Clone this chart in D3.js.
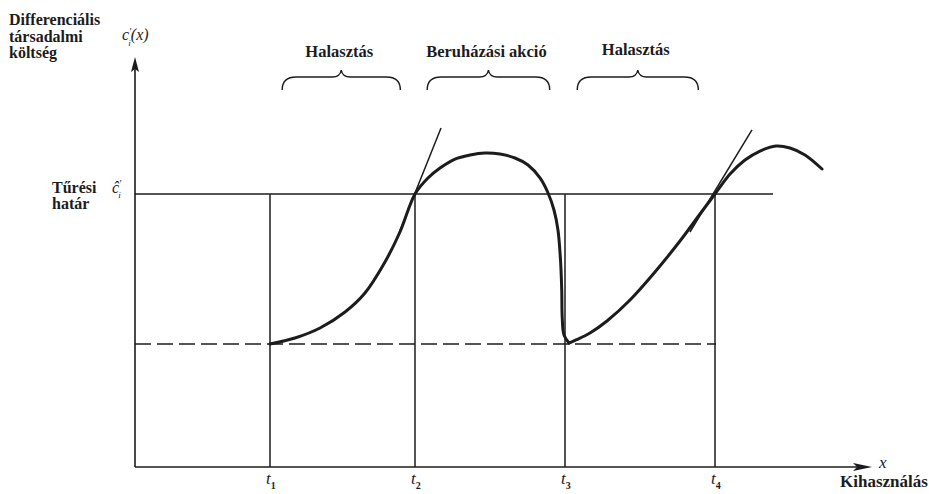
<!DOCTYPE html>
<html>
<head>
<meta charset="utf-8">
<script src="https://cdn.jsdelivr.net/npm/d3@7"></script>
<style>
  html, body { margin: 0; padding: 0; background: #ffffff; }
  svg { display: block; }
</style>
</head>
<body>
<svg id="chart" width="929" height="494"></svg>
<script>
// Utilisation (x) and differential social cost (y), in plot units
const tickNames = ["1", "2", "3", "4"];
const tickValues = [18.62, 38.62, 59.31, 80.0];
const threshold = 66.6;     // tolerance limit ĉ'_i
const baseLevel = 30.0;     // cost level at t1 and t3 (dashed)
const thresholdEnd = 88.0;

// Rising cost during the first postponement and the investment action
const curve1X = [18.62, 22.07, 25.52, 28.97, 31.72, 34.48, 36.55, 38.62, 40.41, 42.07, 44.14, 46.21, 48.28, 50.34, 52.41, 54.21, 55.86, 56.97, 57.79, 58.34, 58.69, 58.86, 58.93, 59.17, 59.86];
const curve1Y = [30.0, 31.46, 33.90, 37.80, 42.44, 50.00, 57.32, 66.59, 70.49, 72.93, 75.12, 76.10, 76.59, 76.34, 75.37, 73.66, 70.49, 66.83, 62.68, 57.80, 50.49, 43.17, 36.34, 32.20, 30.24];

// Rising cost during the second postponement
const curve2X = [59.86, 60.83, 62.76, 65.10, 68.28, 71.72, 75.17, 77.93, 80.0, 82.07, 84.14, 86.21, 88.41, 90.34, 92.41, 94.76];
const curve2Y = [30.24, 30.98, 32.68, 35.61, 40.73, 47.56, 55.12, 61.71, 66.59, 71.46, 74.88, 77.07, 78.29, 77.80, 76.10, 72.68];

// Tangents at t2 and t4 (start, end)
const tangentX = [[36.14, 42.21], [76.55, 85.10]];
const tangentY = [[55.85, 82.68], [57.32, 82.20]];

// Phases above the plot
const phaseNames = ["Halasztás", "Beruházási akció", "Halasztás"];
const phaseFrom = [20.3, 40.3, 61.0];
const phaseTo = [36.6, 57.2, 77.7];

const serif = "'Times New Roman', 'Liberation Serif', 'DejaVu Serif', serif";
const svg = d3.select("#chart")
  .style("font-family", serif)
  .attr("font-family", serif);
const ink = "#1c1c1c";

const x = d3.scaleLinear().domain([0, 100]).range([135, 860]);
const y = d3.scaleLinear().domain([0, 100]).range([467, 57]);

// Axes with arrowheads
const xEnd = 101.66;
svg.append("line")
  .attr("x1", x(0)).attr("y1", y(0)).attr("x2", x(xEnd) - 10).attr("y2", y(0))
  .attr("stroke", ink).attr("stroke-width", 1.6);
svg.append("path")
  .attr("d", `M${x(xEnd)},${y(0)} L${x(xEnd) - 19},${y(0) - 4} L${x(xEnd) - 15},${y(0)} L${x(xEnd) - 19},${y(0) + 4} Z`)
  .attr("fill", ink);

svg.append("line")
  .attr("x1", x(0)).attr("y1", y(0)).attr("x2", x(0)).attr("y2", y(100) + 8)
  .attr("stroke", ink).attr("stroke-width", 1.6);
svg.append("path")
  .attr("d", `M${x(0)},${y(100)} L${x(0) - 4},${y(100) + 15} L${x(0)},${y(100) + 12} L${x(0) + 4},${y(100) + 15} Z`)
  .attr("fill", ink);

// Tolerance limit and base level
svg.append("line")
  .attr("x1", x(0)).attr("x2", x(thresholdEnd))
  .attr("y1", y(threshold)).attr("y2", y(threshold))
  .attr("stroke", ink).attr("stroke-width", 1.5);
svg.append("line")
  .attr("x1", x(0)).attr("x2", x(tickValues[3]) + 1)
  .attr("y1", y(baseLevel)).attr("y2", y(baseLevel))
  .attr("stroke", ink).attr("stroke-width", 1.5)
  .attr("stroke-dasharray", "16,6");

// Verticals at t1..t4
svg.selectAll(".tline").data(tickValues).join("line")
  .attr("class", "tline")
  .attr("x1", d => x(d)).attr("x2", d => x(d))
  .attr("y1", y(0)).attr("y2", y(threshold))
  .attr("stroke", ink).attr("stroke-width", 1.5);

// Tick labels t1..t4
const tl = svg.selectAll(".tlab").data(tickValues).join("text")
  .attr("class", "tlab")
  .attr("x", d => x(d) - 4)
  .attr("y", 484)
  .attr("fill", ink)
  .attr("font-size", 17)
  .attr("font-style", "italic");
tl.append("tspan").text("t");
tl.append("tspan").attr("dy", 5).attr("font-size", 10).attr("font-weight", "bold").attr("font-style", "normal")
  .text((d, i) => tickNames[i]);

// Tangent lines
svg.selectAll(".tangent").data(tangentX).join("line")
  .attr("class", "tangent")
  .attr("x1", d => x(d[0])).attr("x2", d => x(d[1]))
  .attr("y1", (d, i) => y(tangentY[i][0])).attr("y2", (d, i) => y(tangentY[i][1]))
  .attr("stroke", ink).attr("stroke-width", 1.5);

// Cost curves
const line = d3.line().x(d => x(d[0])).y(d => y(d[1])).curve(d3.curveCatmullRom.alpha(0.5));
[[curve1X, curve1Y], [curve2X, curve2Y]].forEach(([xs, ys]) => {
  svg.append("path")
    .datum(xs.map((v, i) => [v, ys[i]]))
    .attr("d", line)
    .attr("fill", "none")
    .attr("stroke", ink)
    .attr("stroke-width", 3)
    .attr("stroke-linecap", "round")
    .attr("stroke-linejoin", "round");
});

// Braces and phase names
const braceTop = 70, braceMid = 77, braceEnd = 90;
phaseNames.forEach((name, i) => {
  const a = x(phaseFrom[i]), b = x(phaseTo[i]), m = (a + b) / 2;
  svg.append("path")
    .attr("d", `M${a},${braceEnd} Q${a},${braceMid} ${a + 14},${braceMid} L${m - 9},${braceMid} Q${m - 1},${braceMid} ${m},${braceTop} Q${m + 1},${braceMid} ${m + 9},${braceMid} L${b - 14},${braceMid} Q${b},${braceMid} ${b},${braceEnd}`)
    .attr("fill", "none").attr("stroke", ink).attr("stroke-width", 1.4);
  svg.append("text")
    .attr("x", m - 2).attr("y", i === 2 ? 55 : 57)
    .attr("text-anchor", "middle")
    .attr("fill", ink)
    .attr("font-size", 16.5).attr("font-weight", "bold")
    .text(name);
});

// Y-axis title
const yTitle = svg.append("text").attr("fill", ink).attr("font-size", 16).attr("font-weight", "bold");
["Differenciális", "társadalmi", "költség"].forEach((s, i) => {
  yTitle.append("tspan").attr("x", 9).attr("y", 25 + i * 16.5).text(s);
});

// c'_i(x)
const cy = svg.append("text").attr("x", 122).attr("y", 40).attr("fill", ink).attr("font-size", 16).attr("font-style", "italic");
cy.append("tspan").text("c");
cy.append("tspan").attr("dy", -5).attr("font-size", 10).text("′");
cy.append("tspan").attr("dx", -3).attr("dy", 11).attr("font-size", 9).text("i");
cy.append("tspan").attr("dy", -6).text("(x)");

// Tolerance limit label
const tol = svg.append("text").attr("fill", ink).attr("font-size", 16).attr("font-weight", "bold");
tol.append("tspan").attr("x", 52).attr("y", 193).text("Tűrési");
tol.append("tspan").attr("x", 52).attr("y", 209).text("határ");

const ch = svg.append("text").attr("x", 112).attr("y", 193).attr("fill", ink).attr("font-size", 16).attr("font-style", "italic");
ch.append("tspan").text("ĉ");
ch.append("tspan").attr("dy", -6).attr("font-size", 10).text("′");
ch.append("tspan").attr("dx", -3).attr("dy", 11).attr("font-size", 9).text("i");

// X-axis labels
svg.append("text").attr("x", 879).attr("y", 468).attr("fill", ink).attr("font-size", 17).attr("font-style", "italic").text("x");
svg.append("text").attr("x", 840).attr("y", 487).attr("fill", ink).attr("font-size", 17).attr("font-weight", "bold").text("Kihasználás");
</script>
</body>
</html>
